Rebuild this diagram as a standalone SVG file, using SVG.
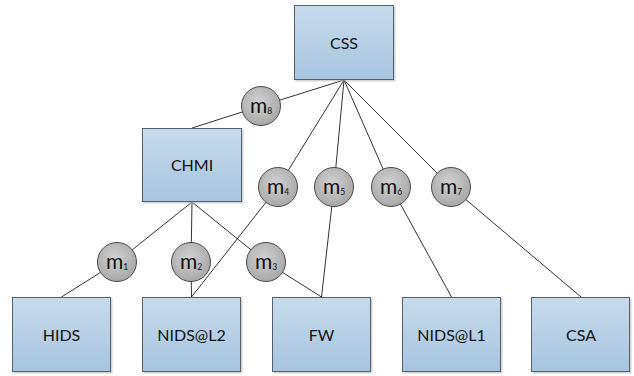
<svg xmlns="http://www.w3.org/2000/svg" width="634" height="376" viewBox="0 0 634 376">
  <defs>
    <linearGradient id="boxFill" x1="0" y1="0" x2="0" y2="1">
      <stop offset="0" stop-color="#c7dbec"/>
      <stop offset="1" stop-color="#a7c4df"/>
    </linearGradient>
    <radialGradient id="dotFill" cx="0.45" cy="0.4" r="0.65">
      <stop offset="0" stop-color="#d2d2d2"/>
      <stop offset="1" stop-color="#a4a4a4"/>
    </radialGradient>
  </defs>
  <style>
    .box { fill: url(#boxFill); stroke: #55606a; stroke-width: 1; }
    .shadow { fill: #b8b8b8; opacity: 0.6; }
    .dot { fill: url(#dotFill); stroke: #4a4a4a; stroke-width: 1; }
    .link { fill: none; stroke: #333333; stroke-width: 1; }
    .label { font-family: Lato, "Liberation Sans", sans-serif; font-size: 16px; fill: #111111; text-anchor: middle; }
    .m { font-family: Lato, "Liberation Sans", sans-serif; font-size: 21px; fill: #111111; }
    .sub { font-size: 8.5px; }
  </style>

  <!-- connectors: each runs source -> m-node -> target -->
  <g id="connectors">
    <polyline class="link" points="344,80 261,106 192,128"/>
    <polyline class="link" points="344,80 278,187 191.5,297"/>
    <polyline class="link" points="344,80 334,187 321.5,297"/>
    <polyline class="link" points="344,80 391,187 451.5,297"/>
    <polyline class="link" points="344,80 451,187 581,297"/>
    <polyline class="link" points="192,202 117,262 61.5,297"/>
    <polyline class="link" points="192,202 191,262 191.5,297"/>
    <polyline class="link" points="192,202 266,262 321.5,297"/>
  </g>

  <!-- boxes -->
  <g id="CSS">
    <rect class="shadow" x="295.5" y="6.5" width="100" height="75"/>
    <rect class="box" x="294.5" y="5.5" width="99" height="74"/>
    <text class="label" x="344" y="48.5">CSS</text>
  </g>
  <g id="CHMI">
    <rect class="shadow" x="143.5" y="129.5" width="100" height="74"/>
    <rect class="box" x="142.5" y="128.5" width="99" height="73"/>
    <text class="label" x="192" y="171">CHMI</text>
  </g>
  <g id="HIDS">
    <rect class="shadow" x="13.5" y="298.5" width="99" height="75"/>
    <rect class="box" x="12.5" y="297.5" width="98" height="74"/>
    <text class="label" x="61.5" y="340.5">HIDS</text>
  </g>
  <g id="NIDS-L2">
    <rect class="shadow" x="143.5" y="298.5" width="99" height="75"/>
    <rect class="box" x="142.5" y="297.5" width="98" height="74"/>
    <text class="label" x="191.5" y="340.5">NIDS@L2</text>
  </g>
  <g id="FW">
    <rect class="shadow" x="273.5" y="298.5" width="99" height="75"/>
    <rect class="box" x="272.5" y="297.5" width="98" height="74"/>
    <text class="label" x="321.5" y="340.5">FW</text>
  </g>
  <g id="NIDS-L1">
    <rect class="shadow" x="403.5" y="298.5" width="99" height="75"/>
    <rect class="box" x="402.5" y="297.5" width="98" height="74"/>
    <text class="label" x="451.5" y="340.5">NIDS@L1</text>
  </g>
  <g id="CSA">
    <rect class="shadow" x="532.5" y="298.5" width="99" height="75"/>
    <rect class="box" x="531.5" y="297.5" width="98" height="74"/>
    <text class="label" x="581" y="340.5">CSA</text>
  </g>

  <!-- m-nodes -->
  <g id="m8">
    <circle class="dot" cx="261" cy="106" r="19.5"/>
    <text class="m" x="250" y="113">m<tspan class="sub" dy="1">8</tspan></text>
  </g>
  <g id="m4">
    <circle class="dot" cx="278" cy="187" r="19.5"/>
    <text class="m" x="267" y="194">m<tspan class="sub" dy="1">4</tspan></text>
  </g>
  <g id="m5">
    <circle class="dot" cx="334" cy="187" r="19.5"/>
    <text class="m" x="323" y="194">m<tspan class="sub" dy="1">5</tspan></text>
  </g>
  <g id="m6">
    <circle class="dot" cx="391" cy="187" r="19.5"/>
    <text class="m" x="380" y="194">m<tspan class="sub" dy="1">6</tspan></text>
  </g>
  <g id="m7">
    <circle class="dot" cx="451" cy="187" r="19.5"/>
    <text class="m" x="440" y="194">m<tspan class="sub" dy="1">7</tspan></text>
  </g>
  <g id="m1">
    <circle class="dot" cx="117" cy="262" r="19.5"/>
    <text class="m" x="106" y="269">m<tspan class="sub" dy="1">1</tspan></text>
  </g>
  <g id="m2">
    <circle class="dot" cx="191" cy="262" r="19.5"/>
    <text class="m" x="180" y="269">m<tspan class="sub" dy="1">2</tspan></text>
  </g>
  <g id="m3">
    <circle class="dot" cx="266" cy="262" r="19.5"/>
    <text class="m" x="255" y="269">m<tspan class="sub" dy="1">3</tspan></text>
  </g>
</svg>
